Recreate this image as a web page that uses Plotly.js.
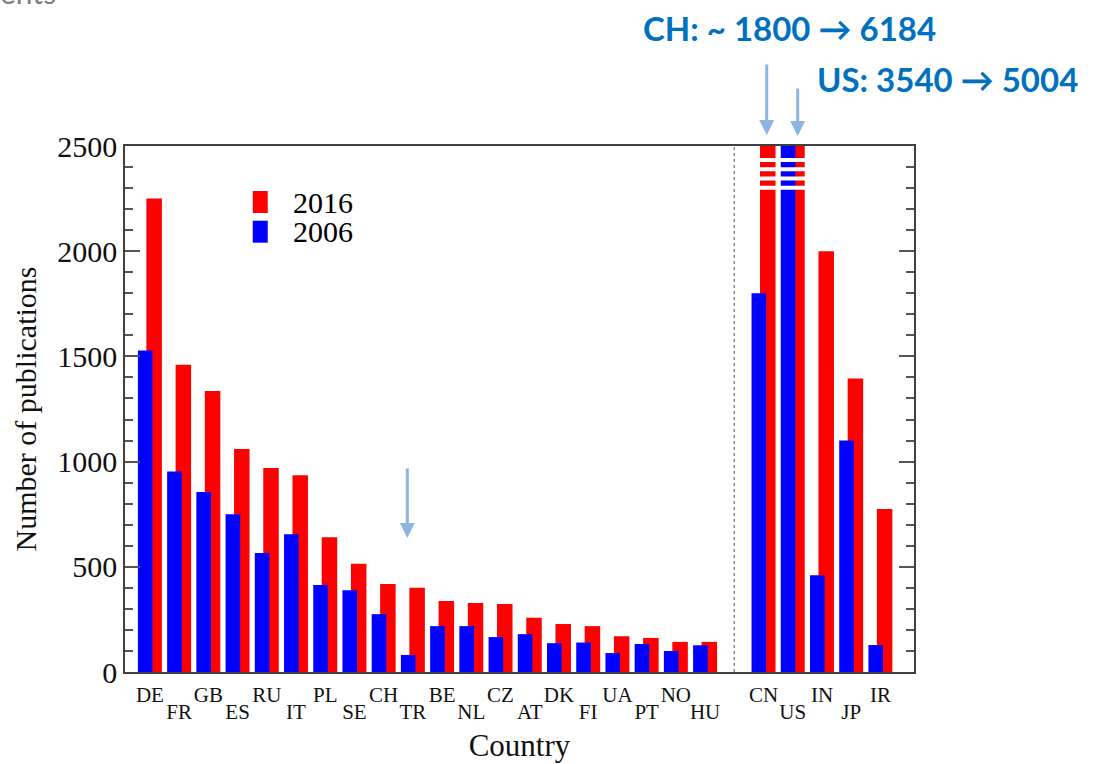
<!DOCTYPE html>
<html><head><meta charset="utf-8">
<script src="https://cdn.plot.ly/plotly-3.0.1.min.js"></script>
<style>html,body{margin:0;padding:0;background:#fff;} #chart{width:1096px;height:764px;}</style>
</head><body><div id="chart"></div>
<script>
// ---- data ----
const countries = ['DE','FR','GB','ES','RU','IT','PL','SE','CH','TR','BE','NL','CZ','AT','DK','FI','UA','PT','NO','HU','CN','US','IN','JP','IR'];
const pubs2016 = [2250,1460,1335,1060,970,935,640,515,418,400,338,328,323,258,228,218,170,162,143,143,6184,5004,2000,1395,775];
const pubs2006 = [1528,953,855,750,565,655,413,388,275,81,218,218,166,180,137,140,90,133,100,127,1800,3540,460,1100,128];
const seriesNames = ['2016','2006'];
const yTickVals = [0,500,1000,1500,2000,2500];
const breakNotes = ['CH: ~ 1800 \u2192 6184','US: 3540 \u2192 5004'];

// ---- layout helpers ----
const RED = '#ff0000', BLUE = '#0000ff';
const breakIdx = countries.indexOf('CN');
const xPos = countries.map((c,i)=> i + (i >= breakIdx ? 1 : 0));
const sepX = breakIdx;
const evenIdx = countries.map((c,i)=>i).filter(i=>i%2===0);
const oddIdx = countries.map((c,i)=>i).filter(i=>i%2===1);
const xRange = [-0.852, 26.15];
const serif = 'Liberation Serif';

const traces = [
  {type:'bar', name:seriesNames[0], x:xPos, y:pubs2016, width:0.53, offset:-0.12,
   marker:{color:RED, line:{width:0}}, showlegend:false,
   customdata:countries, hovertemplate:'%{customdata} 2016: %{y}<extra></extra>'},
  {type:'bar', name:seriesNames[1], x:xPos, y:pubs2006, width:0.5, offset:-0.41,
   marker:{color:BLUE, line:{width:0}}, showlegend:false,
   customdata:countries, hovertemplate:'%{customdata} 2006: %{y}<extra></extra>'},
  {type:'scatter', x:[], y:[], xaxis:'x2', yaxis:'y', showlegend:false, hoverinfo:'skip'}
];

// axis-break stripes over the clipped CN / US bars
const breakBands = [2433, 2390, 2346, 2301];
const shapes = breakBands.map(b => ({type:'rect', xref:'x', yref:'y', layer:'above',
  x0: xPos[breakIdx]-0.5, x1: xPos[breakIdx+1]+0.5, y0:b-9.5, y1:b+9.5,
  fillcolor:'#ffffff', line:{width:0}}));
shapes.push({type:'line', xref:'x', yref:'paper', x0:sepX, x1:sepX, y0:0, y1:1,
  line:{color:'#8a8a8a', width:1.5, dash:'dot'}, layer:'below'});
// manual legend swatches
shapes.push({type:'rect', xref:'paper', yref:'paper', x0:0.1619, x1:0.1809, y0:0.8726, y1:0.9144, fillcolor:RED, line:{width:0}});
shapes.push({type:'rect', xref:'paper', yref:'paper', x0:0.1619, x1:0.1809, y0:0.8162, y1:0.858, fillcolor:BLUE, line:{width:0}});

const arrowColor = '#8db4e2';
const annotations = [
  {xref:'paper', yref:'paper', x:0.2104, y:0.8935, xanchor:'left', yanchor:'middle', showarrow:false,
   text:seriesNames[0], font:{family:serif, size:30, color:'#000'}},
  {xref:'paper', yref:'paper', x:0.2104, y:0.8371, xanchor:'left', yanchor:'middle', showarrow:false,
   text:seriesNames[1], font:{family:serif, size:30, color:'#000'}},
  {xref:'paper', yref:'paper', x:0.8416, y:1.2243, xanchor:'center', yanchor:'middle', showarrow:false,
   text:'<b>'+breakNotes[0]+'</b>', font:{family:'Lato', size:33, color:'#0070c0'}},
  {xref:'paper', yref:'paper', x:1.0425, y:1.1283, xanchor:'center', yanchor:'middle', showarrow:false,
   text:'<b>'+breakNotes[1]+'</b>', font:{family:'Lato', size:33, color:'#0070c0'}},
  {xref:'x', yref:'paper', x:xPos[breakIdx]+0.11, y:1.021, ax:0, ay:-72, text:'', showarrow:true,
   arrowhead:2, arrowsize:1, arrowwidth:3, arrowcolor:arrowColor},
  {xref:'x', yref:'paper', x:xPos[breakIdx+1]+0.17, y:1.019, ax:0, ay:-49, text:'', showarrow:true,
   arrowhead:2, arrowsize:1, arrowwidth:3, arrowcolor:arrowColor},
  {xref:'x', yref:'paper', x:xPos[countries.indexOf('TR')]-0.19, y:0.2548, ax:0, ay:-71, text:'', showarrow:true,
   arrowhead:2, arrowsize:1, arrowwidth:3, arrowcolor:arrowColor},
  {xref:'paper', yref:'paper', x:-0.0849, y:1.2548, xanchor:'right', yanchor:'bottom', showarrow:false,
   text:'ents', font:{family:'Lato', size:30, color:'#7f7f7f'}}
];

const layout = {
  width:1096, height:764,
  margin:{l:125, r:182, t:146, b:92},
  paper_bgcolor:'#fff', plot_bgcolor:'#fff',
  font:{family:serif, color:'#111'},
  barmode:'overlay', showlegend:false,
  xaxis:{range:xRange, tickmode:'array', tickvals:evenIdx.map(i=>xPos[i]), ticktext:evenIdx.map(i=>countries[i]),
    ticks:'', showgrid:false, zeroline:false, showline:true, mirror:true, linecolor:'#404040', linewidth:1.5,
    tickfont:{family:serif, size:21, color:'#111'}, ticklabelstandoff:3, automargin:false,
    title:{text:'Country', font:{family:serif, size:31, color:'#111'}, standoff:28}},
  xaxis2:{overlaying:'x', anchor:'y', side:'bottom', range:xRange, tickmode:'array',
    tickvals:oddIdx.map(i=>xPos[i]), ticktext:oddIdx.map(i=>countries[i]),
    ticks:'', showgrid:false, zeroline:false, showline:false,
    tickfont:{family:serif, size:21, color:'#111'}, ticklabelstandoff:25, automargin:false},
  yaxis:{range:[0,2500], tickmode:'array', tickvals:yTickVals, ticks:'inside', ticklen:15, tickwidth:1.5, tickcolor:'#555',
    minor:{ticks:'inside', tick0:0, dtick:100, ticklen:8, tickwidth:1.5, tickcolor:'#555', showgrid:false},
    showgrid:false, zeroline:false, showline:true, mirror:'ticks', linecolor:'#404040', linewidth:1.5,
    tickfont:{family:serif, size:30, color:'#111'}, automargin:false,
    title:{text:'Number of publications', font:{family:serif, size:30, color:'#111'}, standoff:12}},
  shapes:shapes, annotations:annotations
};

Plotly.newPlot('chart', traces, layout, {displayModeBar:false, staticPlot:false});
</script></body></html>
